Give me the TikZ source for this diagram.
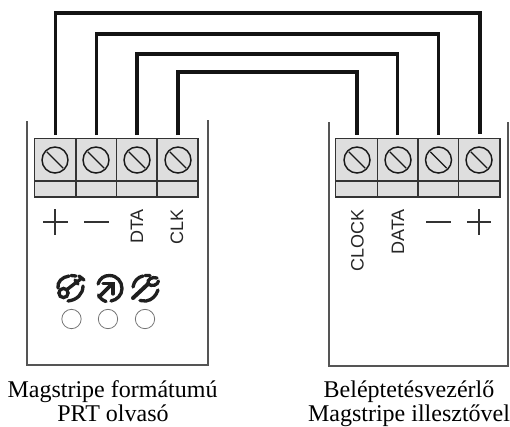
\documentclass[tikz,border=0pt]{standalone}
\usepackage{fontspec}
\setmainfont{Liberation Serif}
\newfontfamily\lblfont{Liberation Sans}
\usetikzlibrary{calc}
\definecolor{blockfill}{HTML}{DEDEDE}
\definecolor{blockline}{HTML}{333333}
\definecolor{wall}{HTML}{555555}
\tikzset{
 wire/.style={line width=2.8pt,black!92},
 wallline/.style={line width=1.5pt,wall},
 block/.style={fill=blockfill,draw=blockline,line width=1pt},
 divider/.style={draw=blockline,line width=0.9pt},
 screw/.style={circle,draw=black!90,fill=blockfill,line width=1.1pt,minimum size=19.5pt,inner sep=0pt},
 led/.style={circle,draw=black!55,line width=0.6pt,minimum size=14.5pt,inner sep=0pt},
 sym/.style={line width=0.9pt,black!80},
 lbl/.style={font=\lblfont\fontsize{13.5}{14}\selectfont,rotate=90,black!85,inner sep=0pt},
 captext/.style={font=\fontsize{18}{18}\selectfont,inner sep=0pt,anchor=base},
 icon/.style={line width=2.5pt,black!88,line cap=round}
}
\newcommand{\slot}[1]{\draw[line width=1pt,black!90] ($(#1)+(-8.2,-8.2)$) -- ($(#1)+(8.2,8.2)$);}
\begin{document}
\begin{tikzpicture}[x=0.75pt,y=-0.75pt]
\useasboundingbox (0,0) rectangle (510,426);
% enclosures
\coordinate (lwa) at (27,121); \coordinate (lwb) at (27,365);
\coordinate (lwc) at (207.5,365); \coordinate (lwd) at (207.5,120);
\draw[wallline] (lwa) -- (lwb) -- (lwc) -- (lwd);
\coordinate (rwa) at (328.5,122); \coordinate (rwb) at (328.5,366);
\coordinate (rwc) at (507.5,366); \coordinate (rwd) at (507.5,122);
\draw[wallline] (rwa) -- (rwb) -- (rwc) -- (rwd);
% terminal blocks
\draw[block] (34.5,138.5) rectangle (198,197);
\draw[block] (335.5,138.5) rectangle (500,197);
\draw[divider] (34.5,181) -- (198,181);
\draw[divider] (335.5,181) -- (500,181);
\foreach \x in {76,116.5,157,377.5,418,458.5} \draw[divider] (\x,138.5) -- (\x,197);
% screws
\node[screw] (s1) at (55,160) {}; \node[screw] (s2) at (96,160) {};
\node[screw] (s3) at (137,160) {}; \node[screw] (s4) at (178,160) {};
\node[screw] (s5) at (357,160) {}; \node[screw] (s6) at (398,160) {};
\node[screw] (s7) at (438.5,160) {}; \node[screw] (s8) at (479,160) {};
\foreach \n in {s1,s2,s3,s4,s5,s6,s7,s8} \slot{\n}
% wires
\coordinate (a1) at (55.5,135); \coordinate (a2) at (96.5,135);
\coordinate (a3) at (137,135); \coordinate (a4) at (178,135);
\coordinate (b1) at (480,134); \coordinate (b2) at (438.5,135);
\coordinate (b3) at (397.5,135); \coordinate (b4) at (357,135);
\coordinate (t1) at (55.5,12.7); \coordinate (t2) at (96.5,33.7);
\coordinate (t3) at (137,54); \coordinate (t4) at (178,71.7);
\draw[wire] (a1) -- (t1) -| (b1);
\draw[wire] (a2) -- (t2) -| (b2);
\draw[wire] (a3) -- (t3) -| (b3);
\draw[wire] (a4) -- (t4) -| (b4);
% polarity symbols
\draw[sym] (43,222) -- (67.5,222) (55,209) -- (55,234.5);
\draw[sym] (84,222) -- (108.5,222);
\draw[sym] (426,222) -- (450.5,222);
\draw[sym] (467,222) -- (491,222) (479,209) -- (479,234.5);
% rotated labels
\node[lbl,anchor=east] (ldta) at (137,209) {DTA};
\node[lbl,anchor=east] (lclk) at (177,209) {CLK};
\node[lbl,anchor=east] (lclock) at (357.5,209) {CLOCK};
\node[lbl,anchor=east] (ldata) at (398,209) {DATA};
% icons: key
\draw[icon] (58,288) .. controls (57,282) and (62,277) .. (69,276) (71,275.5) -- (76,276);
\draw[icon] (83,286) .. controls (83,294) and (77,300) .. (68,301);
\draw[icon] (63.5,293) circle (4.6);
\draw[icon] (67,289.5) -- (82,278);
\draw[icon] (75,280) -- (78,284) (79,276) -- (84,280);
% icons: arrow in circle
\draw[icon] (98,284) .. controls (100,278) and (104,275.5) .. (109.5,275.5) .. controls (117,275.5) and (122,281.5) .. (122,288.5) .. controls (122,295) and (117,300) .. (111,301);
\draw[icon] (98.5,295) .. controls (100,298) and (102,300) .. (106,301.5);
\draw[icon,line width=2.8pt] (99,297) -- (112,284);
\draw[icon] (103,283.5) -- (113,283.5) -- (113,294);
% icons: wrench
\draw[icon] (133,287) .. controls (134,281) and (138,277) .. (143,276) (145,275.5) -- (150,275.5);
\draw[icon] (158,290) .. controls (156,296) and (152,300) .. (146,301) -- (140,300.5);
\draw[icon,line width=3pt] (133,298) -- (148,284);
\draw[icon] (148,284) .. controls (147,279) and (152,276.5) .. (157,278);
\draw[icon] (148,284) .. controls (152,287) and (158,285) .. (158.5,281);
% LEDs
\node[led] (l1) at (71.5,319) {};
\node[led] (l2) at (108,319) {};
\node[led] (l3) at (145,319) {};
% captions
\node[captext] (c1) at (112.5,397) {Magstripe formátumú};
\node[captext] (c2) at (113,421) {PRT olvasó};
\node[captext] (c3) at (409,397) {Beléptetésvezérlő};
\node[captext] (c4) at (409,421) {Magstripe illesztővel};
\end{tikzpicture}
\end{document}
